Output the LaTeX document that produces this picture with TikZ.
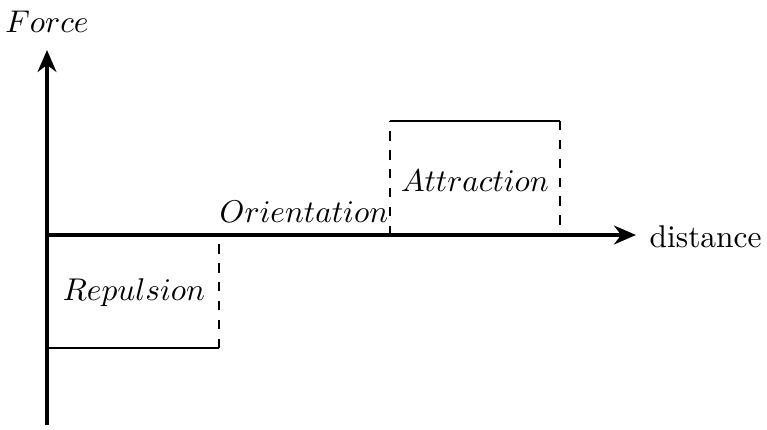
\documentclass[tikz,border=0pt]{standalone}
\usetikzlibrary{arrows.meta}
\begin{document}
\begin{tikzpicture}[x=0.318pt,y=-0.318pt,
  axis/.style={line width=1pt,-{Stealth[length=7pt,width=6pt]}},
  level/.style={line width=0.6pt},
  jump/.style={line width=0.6pt,dashed},
  lbl/.style={inner sep=0pt}]
\useasboundingbox (0,0) rectangle (767,429);
\coordinate (O) at (47,235);
\coordinate (ybot) at (47,425);
\coordinate (ytop) at (47,50);
\coordinate (xend) at (636,235);
\coordinate (r1) at (47,348);
\coordinate (r2) at (219,348);
\coordinate (r3) at (219,235);
\coordinate (a1) at (390,235);
\coordinate (a2) at (390,121);
\coordinate (a3) at (560,121);
\coordinate (a4) at (560,235);
\draw[axis] (ybot) -- (ytop);
\draw[axis] (O) -- (xend);
\node[lbl,anchor=south] (force) at (47,33) {$Force$};
\node[lbl,anchor=west] (dist) at (649,237) {distance};
\draw[level] (r1) -- (r2);
\draw[jump] (r2) -- (r3);
\draw[jump] (a1) -- (a2);
\draw[level] (a2) -- (a3);
\draw[jump] (a3) -- (a4);
\node[lbl] (rep) at (134,293) {$Repulsion$};
\node[lbl] (ori) at (304,212) {$Orientation$};
\node[lbl] (att) at (475,181) {$Attraction$};
\end{tikzpicture}
\end{document}
